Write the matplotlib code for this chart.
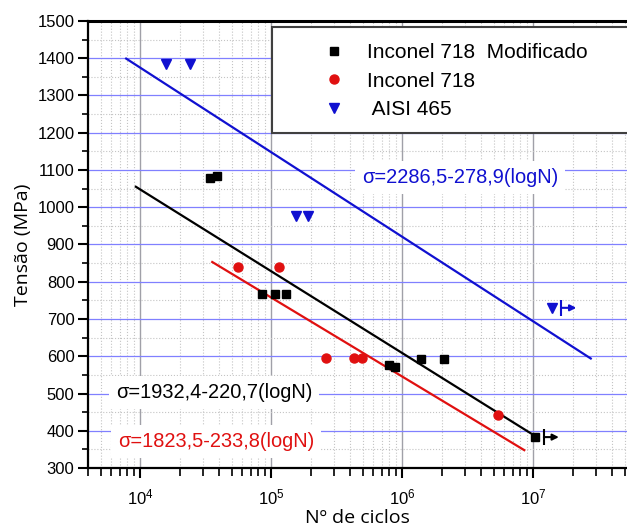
import numpy as np
import matplotlib
matplotlib.use("Agg")
import matplotlib.pyplot as plt
from matplotlib.patches import Rectangle
from matplotlib.ticker import LogLocator, MultipleLocator, NullFormatter
from matplotlib.transforms import offset_copy

plt.rcParams['font.family'] = ['Liberation Sans', 'DejaVu Sans']
plt.rcParams['mathtext.fontset'] = 'custom'
plt.rcParams['mathtext.rm'] = 'Liberation Sans'
plt.rcParams['mathtext.it'] = 'Liberation Sans:italic'
plt.rcParams['mathtext.bf'] = 'Liberation Sans:bold'

# Inconel 718 Modificado
mod_N = [34100, 38500, 85000, 107000, 129000, 787000, 885000, 1390000, 2100000, 10300000]
mod_S = [1079, 1084, 766, 766, 766, 576, 571, 593, 593, 383]
# Inconel 718
inc_N = [56100, 115000, 264000, 428000, 493000, 5400000]
inc_S = [840, 840, 594, 594, 594, 443]
# AISI 465
aisi_N = [15700, 24000, 156000, 191000, 14000000]
aisi_S = [1385, 1385, 976, 976, 730]

# fitted lines (end points)
fit_mod_N = [9270, 9500000]
fit_mod_S = [1055, 394]
fit_inc_N = [35500, 8550000]
fit_inc_S = [853, 348]
fit_aisi_N = [7820, 27500000]
fit_aisi_S = [1399, 594]

# run-outs (point, colour)
runouts = [(10300000, 383, 'black'), (14000000, 730, '#1010d0')]

blue = '#1010d0'
red = '#e01010'

fig = plt.figure(figsize=(6.27, 5.31), dpi=100)
ax = fig.add_axes([0.1404, 0.1186, 0.8596, 0.8419])

ax.set_xscale('log')
ax.set_xlim(4000, 5.2e7)
ax.set_ylim(300, 1500)

# grid
ax.yaxis.set_major_locator(MultipleLocator(100))
ax.yaxis.set_minor_locator(MultipleLocator(50))
ax.xaxis.set_major_locator(LogLocator(base=10, numticks=12))
ax.xaxis.set_minor_locator(LogLocator(base=10, subs=np.arange(2, 10), numticks=12))
ax.xaxis.set_minor_formatter(NullFormatter())
ax.grid(axis='y', which='major', color='#8080ff', lw=0.9, ls='-')
ax.grid(axis='y', which='minor', color='#c4c4c4', lw=0.8, ls=':')
ax.grid(axis='x', which='major', color='#a0a0a8', lw=1.0, ls='-')
ax.grid(axis='x', which='minor', color='#c4c4c4', lw=0.8, ls=':')
ax.set_axisbelow(True)

# lines
ax.plot(fit_aisi_N, fit_aisi_S, color=blue, lw=1.6, zorder=3)
ax.plot(fit_mod_N, fit_mod_S, color='black', lw=1.6, zorder=3)
ax.plot(fit_inc_N, fit_inc_S, color=red, lw=1.6, zorder=3)

# points
ax.plot(mod_N, mod_S, 's', color='black', ms=6, ls='none', zorder=4,
        label='Inconel 718  Modificado')
ax.plot(inc_N, inc_S, 'o', color=red, ms=6.5, ls='none', zorder=4,
        label='Inconel 718')
ax.plot(aisi_N, aisi_S, 'v', color=blue, ms=7.5, ls='none', zorder=4,
        label=' AISI 465')

# run-out arrows
t1 = offset_copy(ax.transData, fig=fig, x=9, y=0, units='dots')
t2 = offset_copy(ax.transData, fig=fig, x=24, y=0, units='dots')
for n, s, c in runouts:
    ax.plot([n], [s], marker='|', ms=12, mew=1.5, color=c, transform=t1, zorder=4)
    ax.annotate('', xy=(n, s), xycoords=t2, xytext=(n, s), textcoords=t1,
                arrowprops=dict(arrowstyle='-|>', color=c, lw=1.5,
                                shrinkA=0, shrinkB=0, mutation_scale=9))

# equations
box = dict(facecolor='white', edgecolor='none', pad=5)
ax.text(0.508, 0.649, u'\u03c3=2286,5-278,9(logN)', transform=ax.transAxes,
        color=blue, fontsize=14.4, ha='left', va='center', bbox=box, zorder=5)
ax.text(0.052, 0.168, u'\u03c3=1932,4-220,7(logN)', transform=ax.transAxes,
        color='black', fontsize=14.4, ha='left', va='center', bbox=box, zorder=5)
ax.text(0.056, 0.059, u'\u03c3=1823,5-233,8(logN)', transform=ax.transAxes,
        color=red, fontsize=14.4, ha='left', va='center', bbox=box, zorder=5)

# legend box + legend
rect = Rectangle((0.341, 0.749), 0.70, 0.2376, transform=ax.transAxes,
                 facecolor='white', edgecolor='#404040', lw=1.5, zorder=6,
                 clip_on=False)
ax.add_patch(rect)
leg = ax.legend(loc='upper left', bbox_to_anchor=(0.418, 0.950), frameon=False,
                fontsize=15, borderpad=0, handlelength=2, handletextpad=0.6,
                labelspacing=0.45, borderaxespad=0)
leg.set_zorder(7)

# axes styling
ax.spines['right'].set_visible(False)
for side in ['left', 'bottom']:
    ax.spines[side].set_linewidth(1.6)
ax.spines['top'].set_linewidth(2.2)
ax.tick_params(axis='both', which='major', direction='out', length=7.2, width=1.5,
               labelsize=12, right=False, top=False)
ax.tick_params(axis='both', which='minor', direction='out', length=4, width=1.2,
               right=False, top=False)
ax.tick_params(axis='x', which='minor', length=6)
ax.tick_params(axis='x', which='major', pad=7)
ax.tick_params(axis='y', which='major', pad=2.5)

ax.set_xlabel(u'N\u00ba de ciclos', fontsize=14, family='Open Sans', labelpad=1)
ax.set_ylabel(u'Tensão (MPa)', fontsize=14, family='Open Sans', labelpad=4)

fig.savefig('out.png', dpi=100)
